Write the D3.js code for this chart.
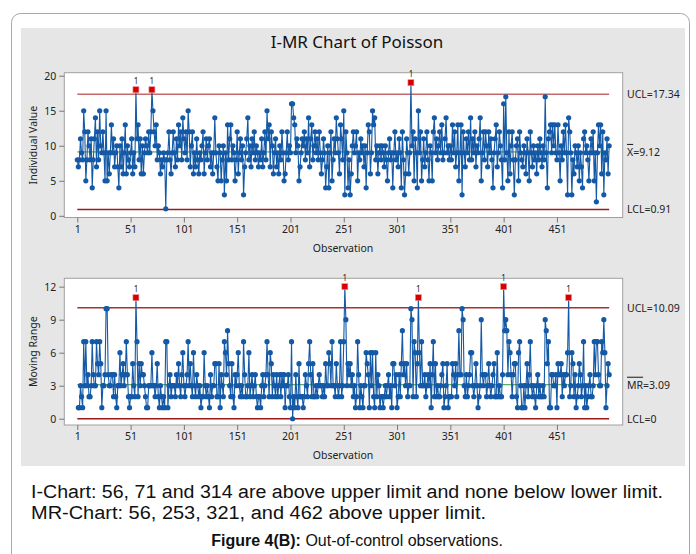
<!DOCTYPE html>
<html>
<head>
<meta charset="utf-8">
<script src="https://cdn.jsdelivr.net/npm/d3@7"></script>
<style>
  body { margin: 0; background: #fff; }
  svg { display: block; }
  .tick text { font-family: "Noto Sans", "Open Sans", sans-serif; font-size: 10.5px; fill: #222; }
  .lbl { font-family: "Noto Sans", "Open Sans", sans-serif; font-size: 10.5px; fill: #222; }
  .cap { font-family: "Liberation Sans", Arial, sans-serif; font-size: 16px; fill: #111; }
</style>
</head>
<body>
<svg width="696" height="554"></svg>
<script>
// individual observations 1..500
var individual = [
  8,7,8,11,9,8,15,12,5,8, 12,10,8,11,4,8,11,14,7,12, 8,15,10,9,12,9,5,15,5,9, 6,9,13,9,11,7,9,10,7,4, 10,7,11,6,9,13,6,10,8,7,
  9,11,6,9,7,18,11,13,8,11, 6,10,6,9,11,10,9,12,9,12, 18,15,12,10,13,8,10,9,6,8, 7,9,8,1,8,9,12,8,6,9, 12,9,7,11,8,13,10,12,8,14,
  11,9,12,8,15,12,7,10,12,6, 9,7,11,8,6,9,8,10,12,6, 9,11,8,10,11,7,9,6,9,14, 9,7,5,10,9,5,8,10,3,9, 5,13,8,11,13,8,10,9,5,8,
  12,6,9,11,8,10,3,7,9,11, 14,8,10,7,11,9,12,8,10,9, 7,9,8,11,7,9,12,8,15,11, 13,7,12,10,6,9,11,7,9,6, 10,8,12,9,5,6,9,12,8,10,
  9,16,16,14,13,9,11,10,5,7, 9,11,10,12,8,11,9,14,7,11, 13,8,10,12,9,11,8,12,9,6, 8,11,9,4,7,10,4,9,12,5, 8,11,9,14,11,9,6,13,11,8,
  15,3,12,9,4,8,3,6,10,12, 9,10,12,5,9,8,11,9,10,7, 10,4,9,13,12,6,9,15,13,14, 8,10,6,9,10,8,10,9,7,10, 8,5,9,11,8,9,4,9,12,8,
  9,7,11,9,4,12,8,3,6,11, 9,6,9,19,10,12,5,11,9,4, 15,9,12,5,8,11,7,9,12,8, 5,10,9,5,12,14,9,11,8,10, 12,9,13,8,9,11,14,9,10,8,
  10,8,13,9,12,7,9,13,5,9, 13,3,12,9,7,11,9,12,8,14, 8,11,9,12,7,10,9,11,14,5, 9,12,8,12,10,7,12,9,11,8, 4,9,11,13,7,9,12,10,8,4,
  16,8,17,9,5,12,6,10,12,8, 3,8,10,11,5,12,9,8,7,10, 9,6,11,9,5,12,9,7,10,8, 9,6,10,8,11,9,7,10,8,17, 9,4,11,12,13,9,13,10,13,9,
  8,13,9,5,10,8,12,9,13,9, 3,14,12,9,3,8,6,10,9,7, 10,5,9,7,4,11,12,9,10,8, 5,9,11,9,12,5,9,2,9,13, 10,13,6,12,3,9,8,11,6,10
];
// control limits as printed on the chart: UCL, centre, LCL
var iLimits = [17.34, 9.12, 0.91];
var mrLimits = [10.09, 3.09, 0];
var xTicks = [1, 51, 101, 151, 201, 251, 301, 351, 401, 451];
var iTicks = [0, 5, 10, 15, 20];
var mrTicks = [0, 3, 6, 9, 12];

var svg = d3.select("svg");
var blue = "#1459a6";

// frame + grey panel
svg.append("rect").attr("x", 11.5).attr("y", 13.5).attr("width", 678).attr("height", 560)
  .attr("rx", 9).attr("fill", "#fff").attr("stroke", "#a8a8a8");
svg.append("rect").attr("x", 21).attr("y", 28).attr("width", 664).attr("height", 438).attr("fill", "#e6e6e6");

svg.append("text").attr("x", 357).attr("y", 48).attr("text-anchor", "middle")
  .style("font-family", "'Noto Sans', 'Open Sans', sans-serif").style("font-size", "17px").style("fill", "#111")
  .text("I-MR Chart of Poisson");

var x = d3.scaleLinear().domain([-11.2, 512.7]).range([64.3, 622.7]);

var mr = individual.map(function(d, i) { return i == 0 ? null : Math.abs(d - individual[i - 1]); });

function panel(opts) {
  var g = svg.append("g");
  var y = d3.scaleLinear().domain(opts.domain).range([opts.bottom, opts.top]);

  g.append("rect").attr("x", 64.3).attr("y", opts.top).attr("width", 558.4).attr("height", opts.bottom - opts.top)
    .attr("fill", "#fff").attr("stroke", "#a0a0a0");

  var yAxis = g.append("g").attr("transform", "translate(64.3,0)")
    .call(d3.axisLeft(y).tickValues(opts.ticks).tickSize(5).tickPadding(3));
  yAxis.select(".domain").remove();
  yAxis.selectAll("line").attr("stroke", "#777");

  var xAxis = g.append("g").attr("transform", "translate(0," + opts.bottom + ")")
    .call(d3.axisBottom(x).tickValues(xTicks).tickSize(5).tickPadding(3));
  xAxis.select(".domain").remove();
  xAxis.selectAll("line").attr("stroke", "#777");

  g.append("text").attr("class", "lbl").attr("x", 343).attr("y", opts.bottom + 34)
    .attr("text-anchor", "middle").text("Observation");
  g.append("text").attr("class", "lbl")
    .attr("transform", "translate(" + opts.ylabX + "," + ((opts.top + opts.bottom) / 2) + ") rotate(-90)")
    .attr("text-anchor", "middle").text(opts.ylabel);

  // limits
  var lim = opts.limits;
  var x0 = x(1), x1 = x(500);
  g.append("line").attr("x1", x0).attr("x2", x1).attr("y1", y(lim[0])).attr("y2", y(lim[0]))
    .attr("stroke", opts.uclColor).attr("stroke-width", 1.5);
  g.append("line").attr("x1", x0).attr("x2", x1).attr("y1", y(lim[2])).attr("y2", y(lim[2]))
    .attr("stroke", "#a01818").attr("stroke-width", 1.5);
  g.append("line").attr("x1", x0).attr("x2", x1).attr("y1", y(lim[1])).attr("y2", y(lim[1]))
    .attr("stroke", "#2a9a3a").attr("stroke-width", 1);

  var pts = opts.values.map(function(v, i) { return { obs: i + 1, v: v }; })
    .filter(function(d) { return d.v !== null; });

  g.append("path").datum(pts)
    .attr("fill", "none").attr("stroke", blue).attr("stroke-width", 1.1)
    .attr("d", d3.line().x(function(d) { return x(d.obs); }).y(function(d) { return y(d.v); }));

  var normal = pts.filter(function(d) { return d.v <= lim[0] && d.v >= lim[2]; });
  var out = pts.filter(function(d) { return d.v > lim[0] || d.v < lim[2]; });

  g.selectAll(".dot").data(normal).enter().append("circle")
    .attr("cx", function(d) { return x(d.obs); }).attr("cy", function(d) { return y(d.v); })
    .attr("r", 2.6).attr("fill", blue);

  g.selectAll(".out").data(out).enter().append("rect")
    .attr("x", function(d) { return x(d.obs) - 3; }).attr("y", function(d) { return y(d.v) - 3; })
    .attr("width", 6).attr("height", 6).attr("fill", "#d40000").attr("stroke", "#f09090").attr("stroke-width", 0.6);
  g.selectAll(".outlbl").data(out).enter().append("text")
    .attr("x", function(d) { return x(d.obs); }).attr("y", function(d) { return y(d.v) - 6; })
    .attr("text-anchor", "middle")
    .style("font-family", "'Noto Sans', sans-serif").style("font-size", "8px").style("fill", "#222")
    .text("1");

  // right-hand limit labels
  var lx = 627;
  g.append("text").attr("class", "lbl").attr("x", lx).attr("y", y(lim[0]) + 4).text("UCL=" + lim[0]);
  var c = g.append("text").attr("class", "lbl").attr("x", lx).attr("y", y(lim[1]) + 4);
  c.append("tspan").style("text-decoration", "overline").text(opts.centreName);
  c.append("tspan").text("=" + lim[1]);
  g.append("text").attr("class", "lbl").attr("x", lx).attr("y", y(lim[2]) + 4).text("LCL=" + lim[2]);
}

panel({
  values: individual, limits: iLimits, ticks: iTicks,
  domain: [-0.24, 20.43], top: 72.7, bottom: 217.5,
  ylabel: "Individual Value", ylabX: 37, centreName: "X", uclColor: "#c06a6a"
});

panel({
  values: mr, limits: mrLimits, ticks: mrTicks,
  domain: [-0.57, 12.76], top: 278.3, bottom: 425,
  ylabel: "Moving Range", ylabX: 37, centreName: "MR", uclColor: "#a83030"
});

// caption text below the figure
svg.append("text").attr("class", "cap").attr("x", 31).attr("y", 498)
  .style("font-size", "18px").attr("textLength", 632).attr("lengthAdjust", "spacingAndGlyphs")
  .text("I-Chart: 56, 71 and 314 are above upper limit and none below lower limit.");
svg.append("text").attr("class", "cap").attr("x", 31).attr("y", 519)
  .style("font-size", "18px").attr("textLength", 455).attr("lengthAdjust", "spacingAndGlyphs")
  .text("MR-Chart: 56, 253, 321, and 462 above upper limit.");
var fig = svg.append("text").attr("class", "cap").attr("x", 357).attr("y", 546).attr("text-anchor", "middle");
fig.append("tspan").style("font-weight", "bold").text("Figure 4(B):");
fig.append("tspan").text(" Out-of-control observations.");
</script>
</body>
</html>
